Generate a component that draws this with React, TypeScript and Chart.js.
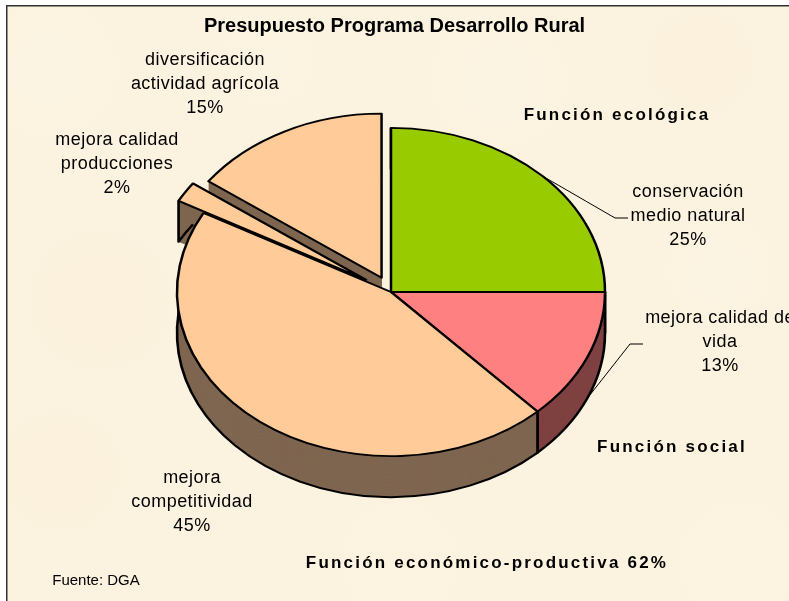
import React, { useEffect, useRef } from "react";
import { Chart, registerables } from "chart.js";

Chart.register(...registerables);

const titleText = "Presupuesto Programa Desarrollo Rural";
const categories = [
  "mejora calidad producciones",
  "diversificación actividad agrícola",
  "conservación medio natural",
  "mejora calidad de vida",
  "mejora competitividad",
];
const values = [2, 15, 25, 13, 45];
const topColors = ["#FFCC99", "#FFCC99", "#99CC00", "#FF8080", "#FFCC99"];
const wallColors = ["#7F6650", "#7F6650", "#4C6600", "#7F4040", "#7F6650"];
const explode = [29.5, 20.8, 0, 0, 0];
const wallOrder = [1, 0, 2, 3, 4];
const firstAngle = 298.8;

const labelLines = [
  { lines: ["mejora calidad", "producciones", "2%"], x: 117, y: 140 },
  { lines: ["diversificación", "actividad agrícola", "15%"], x: 205, y: 60 },
  { lines: ["conservación", "medio natural", "25%"], x: 688, y: 192 },
  { lines: ["mejora calidad de", "vida", "13%"], x: 720, y: 318 },
  { lines: ["mejora", "competitividad", "45%"], x: 192, y: 478 },
];
const groupNotes = [
  { text: "Función ecológica", x: 617, y: 115 },
  { text: "Función social", x: 672, y: 447 },
  { text: "Función económico-productiva 62%", x: 487, y: 563 },
];
const sourceNote = "Fuente: DGA";
const paperBlotches = [
  { x: 50, y: 70, r: 90, c: "rgba(254,247,232,0.45)" },
  { x: 100, y: 300, r: 90, c: "rgba(249,237,213,0.35)" },
  { x: 60, y: 470, r: 80, c: "rgba(250,238,214,0.35)" },
  { x: 270, y: 60, r: 60, c: "rgba(253,246,230,0.45)" },
  { x: 500, y: 80, r: 90, c: "rgba(253,246,232,0.45)" },
  { x: 700, y: 60, r: 80, c: "rgba(250,238,216,0.35)" },
  { x: 720, y: 270, r: 70, c: "rgba(253,246,232,0.45)" },
  { x: 740, y: 560, r: 80, c: "rgba(253,245,228,0.45)" },
  { x: 400, y: 560, r: 90, c: "rgba(252,243,224,0.35)" },
];

const pieCx = 391;
const pieCy = 292;
const tilt = 0.767;
const depth = 53.5;
const textFont = '"Liberation Sans", Arial, sans-serif';

function sliceShift(arc: any, i: number) {
  const mid = (arc.startAngle + arc.endAngle) / 2;
  return { dx: Math.cos(mid) * explode[i], dy: Math.sin(mid) * explode[i] };
}

const pie3d = {
  id: "pie3d",
  beforeDraw(chart: any) {
    const { ctx, width, height } = chart;
    ctx.save();
    ctx.beginPath();
    ctx.rect(7, 6, width, height);
    ctx.clip();
    ctx.fillStyle = "#FBF2DF";
    ctx.fillRect(7, 6, width, height);
    paperBlotches.forEach((b) => {
      const g = ctx.createRadialGradient(b.x, b.y, 0, b.x, b.y, b.r);
      g.addColorStop(0, b.c);
      g.addColorStop(1, b.c.replace(/[\d.]+\)$/, "0)"));
      ctx.fillStyle = g;
      ctx.fillRect(b.x - b.r, b.y - b.r, b.r * 2, b.r * 2);
    });
    ctx.restore();
    ctx.save();
    ctx.strokeStyle = "#333333";
    ctx.lineWidth = 1.5;
    ctx.beginPath();
    ctx.moveTo(6.75, height);
    ctx.lineTo(6.75, 5.75);
    ctx.lineTo(width, 5.75);
    ctx.stroke();
    ctx.restore();
  },
  beforeDatasetDraw(chart: any) {
    const { ctx } = chart;
    const arcs = chart.getDatasetMeta(0).data;
    ctx.save();
    ctx.translate(pieCx, pieCy);
    ctx.scale(1, tilt);
    ctx.translate(-arcs[0].x, -arcs[0].y);
    // side walls, swept downward from each slice
    for (const i of wallOrder) {
      const arc = arcs[i];
      const { dx, dy } = sliceShift(arc, i);
      const x = arc.x + dx;
      const y = arc.y + dy;
      const r = arc.outerRadius;
      ctx.fillStyle = wallColors[i];
      for (let d = depth; d >= 0; d -= 0.75) {
        ctx.beginPath();
        ctx.moveTo(x, y + d);
        ctx.arc(x, y + d, r, arc.startAngle, arc.endAngle);
        ctx.closePath();
        ctx.fill();
      }
      if (i === 1) continue; // back-facing wall: only its straight face shows
      ctx.strokeStyle = "#000000";
      ctx.lineWidth = 2.6;
      ctx.lineJoin = "round";
      ctx.beginPath();
      ctx.moveTo(x + Math.cos(arc.startAngle) * r, y + Math.sin(arc.startAngle) * r);
      ctx.lineTo(x + Math.cos(arc.startAngle) * r, y + Math.sin(arc.startAngle) * r + depth);
      ctx.arc(x, y + depth, r, arc.startAngle, arc.endAngle);
      if (i !== 0) ctx.lineTo(x + Math.cos(arc.endAngle) * r, y + Math.sin(arc.endAngle) * r);
      ctx.stroke();
    }
    // slice tops, drawn by the library's own arc elements
    arcs.forEach((arc: any, i: number) => {
      const { dx, dy } = sliceShift(arc, i);
      ctx.save();
      ctx.translate(dx, dy);
      arc.draw(ctx);
      ctx.restore();
    });
    ctx.restore();
    return false;
  },
  afterDraw(chart: any) {
    const { ctx } = chart;
    const arcs = chart.getDatasetMeta(0).data;
    ctx.save();
    // leader lines
    const leader = (i: number, extra: number, ex: number, ey: number, tx: number) => {
      const arc = arcs[i];
      const mid = (arc.startAngle + arc.endAngle) / 2;
      ctx.beginPath();
      ctx.moveTo(pieCx + Math.cos(mid) * arc.outerRadius, pieCy + Math.sin(mid) * arc.outerRadius * tilt + extra);
      ctx.lineTo(ex, ey);
      ctx.lineTo(tx, ey);
      ctx.stroke();
    };
    ctx.strokeStyle = "#000000";
    ctx.lineWidth = 1;
    leader(2, 0, 615, 218, 628);
    leader(3, 41, 630, 344, 643);

    ctx.fillStyle = "#000000";
    ctx.textAlign = "center";
    ctx.textBaseline = "middle";
    ctx.font = `18px ${textFont}`;
    (ctx as any).letterSpacing = "0.45px";
    labelLines.forEach((l) => {
      l.lines.forEach((t, k) => ctx.fillText(t, l.x, l.y + k * 24));
    });
    ctx.font = `bold 17px ${textFont}`;
    (ctx as any).letterSpacing = "2.2px";
    groupNotes.forEach((n) => ctx.fillText(n.text, n.x, n.y));
    (ctx as any).letterSpacing = "0px";
    ctx.font = `15px ${textFont}`;
    ctx.fillText(sourceNote, 96, 581);
    ctx.restore();
  },
};

export default function App() {
  const ref = useRef<HTMLCanvasElement | null>(null);
  useEffect(() => {
    const chart = new Chart(ref.current as HTMLCanvasElement, {
      type: "pie",
      data: {
        labels: categories,
        datasets: [
          {
            data: values,
            backgroundColor: topColors,
            borderColor: "#000000",
            borderWidth: 2.5,
            borderJoinStyle: "round",
            clip: false,
          } as any,
        ],
      },
      options: {
        animation: false,
        responsive: false,
        radius: 214,
        rotation: firstAngle,
        layout: { padding: 0 },
        plugins: {
          legend: { display: false },
          tooltip: { enabled: false },
          title: {
            display: true,
            text: titleText,
            color: "#000000",
            font: { family: textFont, size: 20, weight: "bold" },
            padding: { top: 14, bottom: 10 },
          },
        },
      } as any,
      plugins: [pie3d],
    });
    return () => chart.destroy();
  }, []);
  return (
    <div style={{ position: "fixed", left: 0, top: 0, width: 789, height: 601, background: "#ffffff" }}>
      <canvas ref={ref} width={789} height={601} style={{ display: "block" }} />
    </div>
  );
}
